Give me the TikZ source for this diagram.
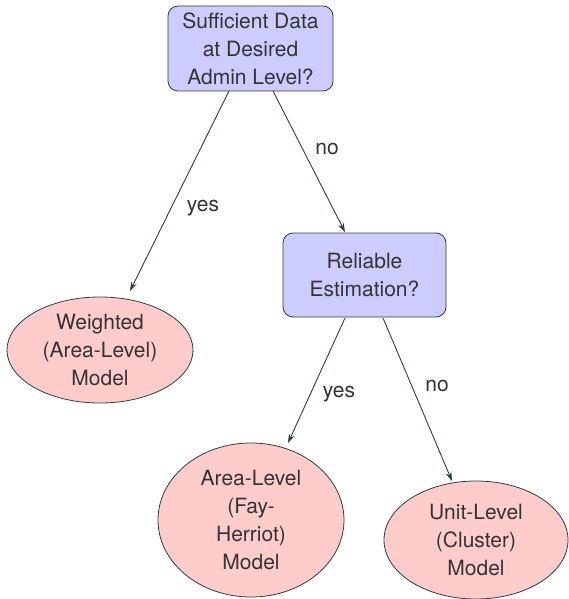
\documentclass[tikz,border=0pt]{standalone}
\usepackage{fontspec}
\setmainfont{TeX Gyre Heros}
\usetikzlibrary{shapes.geometric,arrows.meta}
\definecolor{boxfill}{HTML}{CCCCFF}
\definecolor{ellfill}{HTML}{FFCCCC}
\definecolor{linec}{HTML}{2F3F3F}
\definecolor{textc}{HTML}{333333}
\begin{document}
\begin{tikzpicture}[x=1pt,y=-1pt,
  every node/.style={font=\fontsize{21}{28}\selectfont, text=textc},
  decision/.style={draw=linec, fill=boxfill, rounded corners=10pt, align=center, inner sep=0pt, line width=0.8pt},
  leaf/.style={ellipse, draw=linec, fill=ellfill, align=center, inner sep=0pt, line width=0.8pt},
  conn/.style={draw=linec, line width=0.9pt, -{Stealth[length=9pt,width=6pt]}},
  lbl/.style={inner sep=0pt}
]
\useasboundingbox (0,0) rectangle (568,599);
\node[decision, minimum width=165pt, minimum height=85pt] (q1) at (250.5,48.5) {Sufficient Data\\at Desired\\Admin Level?};
\node[decision, minimum width=163pt, minimum height=84pt] (q2) at (364.5,275) {Reliable\\Estimation?};
\node[leaf, minimum width=186pt, minimum height=106pt] (w) at (100,350) {Weighted\\(Area-Level)\\Model};
\node[leaf, minimum width=186pt, minimum height=154pt] (a) at (251,520) {Area-Level\\(Fay-\\Herriot)\\Model};
\node[leaf, minimum width=184pt, minimum height=118pt] (u) at (476,540) {Unit-Level\\(Cluster)\\Model};
\coordinate (q1a) at (229,91);
\coordinate (q1b) at (273,91);
\coordinate (q2a) at (345,318);
\coordinate (q2b) at (383,318);
\coordinate (wt) at (130,291);
\coordinate (q2t) at (345,232);
\coordinate (at) at (288,443);
\coordinate (ut) at (452,481);
\draw[conn] (q1a) -- (wt);
\draw[conn] (q1b) -- (q2t);
\draw[conn] (q2a) -- (at);
\draw[conn] (q2b) -- (ut);
\node[lbl] (l1) at (203,208) {yes};
\node[lbl] (l2) at (327,149) {no};
\node[lbl] (l3) at (339,394) {yes};
\node[lbl] (l4) at (437,386) {no};
\end{tikzpicture}
\end{document}
